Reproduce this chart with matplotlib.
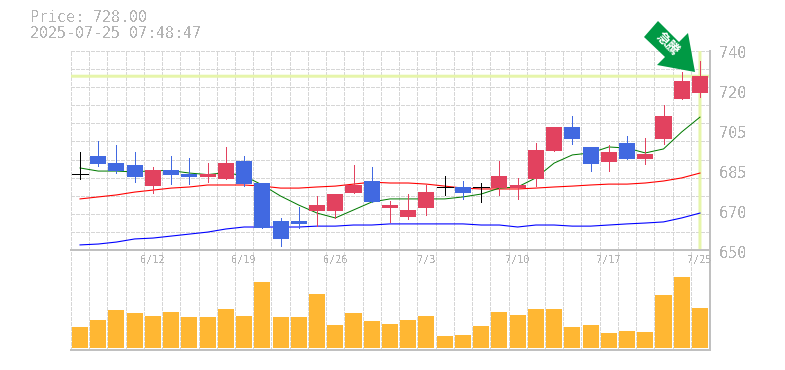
#!/usr/bin/env python3
import matplotlib
matplotlib.use("Agg")
import matplotlib.pyplot as plt
from matplotlib.patches import Polygon
from matplotlib.transforms import Affine2D

plt.rcParams['font.family'] = ['DejaVu Sans Mono', 'Noto Sans CJK JP']
plt.rcParams['text.antialiased'] = False
plt.rcParams['lines.antialiased'] = False
plt.rcParams['patch.antialiased'] = False

W, H = 785, 370

open_ = [684.2, 692.5, 689.3, 688.4, 679.1, 686.2, 684.4, 683.1, 682.2, 690.2,
         680.3, 663.1, 663.1, 667.6, 667.6, 675.8, 681.2, 669.0, 664.9, 669.0,
         678.5, 678.5, 678.3, 678.0, 678.0, 682.1, 694.8, 705.6, 696.6, 689.8,
         698.4, 691.2, 700.2, 718.3, 721.0]
close = [684.2, 689.0, 685.9, 683.1, 686.2, 684.1, 683.1, 684.4, 689.3, 680.0,
         660.1, 655.0, 661.8, 670.3, 675.3, 679.4, 671.7, 670.3, 668.1, 676.2,
         678.5, 675.8, 678.3, 683.5, 679.4, 695.2, 705.6, 700.2, 688.9, 694.3,
         691.2, 693.4, 710.6, 726.4, 728.6]
high = [694.3, 699.3, 697.5, 694.3, 687.5, 692.5, 691.6, 689.3, 696.6, 692.5,
        680.3, 664.5, 669.4, 674.4, 675.3, 688.4, 687.5, 672.2, 675.3, 679.4,
        683.5, 681.2, 680.3, 690.2, 682.6, 698.4, 705.6, 710.6, 696.6, 697.5,
        701.6, 700.6, 715.6, 730.5, 735.5]
low = [682.1, 688.1, 685.0, 680.9, 675.9, 680.0, 680.0, 680.9, 682.2, 679.1,
       660.1, 651.8, 660.1, 660.8, 664.5, 675.8, 671.7, 662.7, 664.0, 665.8,
       674.9, 673.1, 671.7, 674.9, 673.1, 678.9, 694.8, 697.9, 685.7, 685.7,
       691.2, 688.9, 697.9, 718.3, 719.2]

ma_short = [687.1, 685.7, 685.7, 685.3, 685.9, 685.9, 684.8, 684.1, 685.0, 683.5,
            679.4, 674.4, 670.3, 666.7, 664.5, 668.1, 671.7, 673.1, 673.1, 673.1,
            673.1, 674.0, 675.3, 678.0, 678.5, 682.6, 689.3, 693.0, 693.9, 696.6,
            696.1, 693.9, 695.7, 703.4, 710.1]
ma_mid = [673.1, 674.0, 674.9, 676.2, 677.1, 678.0, 678.5, 679.4, 679.4, 679.4,
          678.9, 678.0, 678.0, 678.5, 678.9, 679.8, 680.7, 680.3, 680.3, 679.8,
          678.9, 678.0, 677.6, 677.6, 677.6, 678.0, 678.5, 678.9, 679.4, 679.8,
          679.8, 680.3, 681.2, 682.6, 684.8]
ma_long = [652.3, 652.7, 653.6, 655.0, 655.4, 656.3, 657.2, 658.1, 659.5, 660.4,
           660.4, 660.4, 660.4, 660.8, 660.8, 661.3, 661.3, 661.8, 661.8, 661.8,
           661.8, 661.8, 661.3, 661.3, 660.4, 661.3, 661.3, 660.8, 660.8, 661.3,
           661.8, 662.2, 662.7, 664.5, 666.7]
volume = [21.3, 28.3, 38.3, 35.3, 32.3, 36.3, 31.3, 31.3, 39.3, 32.3,
          66.3, 31.3, 31.3, 54.3, 23.3, 35.3, 27.3, 24.3, 28.3, 32.3,
          12.3, 13.3, 22.3, 36.3, 33.3, 39.3, 39.3, 21.3, 23.3, 15.3,
          17.3, 16.3, 53.3, 71.3, 40.3]

date_pos = [4, 9, 14, 19, 24, 29, 34]
date_labels = ['6/12', '6/19', '6/26', '7/3', '7/10', '7/17', '7/25']
price_ticks = [740, 720, 705, 685, 670, 650]
last_price = 728.6

days = list(range(len(close)))
px = 1 / 100 * 72  # one pixel in points

GRID = '#d6d6d6'
FRAME = '#c0c0c0'
TEXT = '#b4b4b4'
UP = '#e2425f'
DOWN = '#4169e1'
HILITE = '#e6f5aa'


def place(left, top, right, bottom):
    return fig.add_axes([left / W, 1 - bottom / H, (right - left) / W, (bottom - top) / H])


fig = plt.figure(figsize=(W / 100, H / 100), dpi=100)
ax = place(71, 51, 710, 250)
ax2 = place(71, 250, 710, 350)

xlim = (-0.494, 34.55)
grid_x = [d + 0.5 for d in range(-1, 35)]

for a in (ax, ax2):
    a.set_xlim(xlim)
    a.set_xticks([])
    a.set_yticks([])
    a.patch.set_alpha(0)
    for s in ('left', 'top'):
        a.spines[s].set_visible(False)
    for s in ('right', 'bottom'):
        a.spines[s].set_color(FRAME)
        a.spines[s].set_linewidth(2 * px)
    a.vlines(grid_x, 0, 1, transform=a.get_xaxis_transform(), colors=GRID,
             linewidth=px, linestyles=(0, (3, 2)), zorder=1, clip_on=False)

ax.set_ylim(650, 740)
grid_y = [650 + 90 * k / 11 for k in range(12)]
ax.hlines(grid_y, xlim[0], xlim[1], colors=GRID, linewidth=px,
          linestyles=(0, (3, 2)), zorder=1)

ax.axhline(last_price, color=HILITE, linewidth=3 * px, zorder=2, antialiased=True, snap=False)
ax.axvline(days[-1], color=HILITE, linewidth=3 * px, zorder=2, antialiased=True, snap=False)

ax.plot(days, ma_long, color='#0000ff', linewidth=1.1 * px, zorder=3, antialiased=True)
ax.plot(days, ma_mid, color='#ff0000', linewidth=1.1 * px, zorder=3, antialiased=True)
ax.plot(days, ma_short, color='#007a00', linewidth=1.0 * px, zorder=3, antialiased=True)

for d in days:
    o, c = open_[d], close[d]
    if o == c:
        ax.vlines(d, low[d], high[d], color='black', linewidth=0.9 * px, zorder=4)
        ax.hlines(o, d - 0.44, d + 0.44, color='black', linewidth=0.9 * px, zorder=4)
        continue
    col = UP if c > o else DOWN
    ax.vlines(d, low[d], high[d], color=col, linewidth=0.9 * px, zorder=4)
    ax.bar(d, abs(c - o), bottom=min(o, c), width=0.88, color=col, linewidth=0, zorder=5)

ax2.set_ylim(-1.7, 98.3)
ax2.bar(days, volume, width=0.88, color='#ffb733', linewidth=0, zorder=3)

for p, lab in zip(date_pos, date_labels):
    ax2.text(p, 87.9, lab, color=TEXT, fontsize=7.4, ha='center', va='center', zorder=6)

for v, k in zip(price_ticks, range(len(price_ticks))):
    fig.text(733 / W, 1 - (53 + 40 * k) / H, str(v), color=TEXT, fontsize=11,
             ha='center', va='center')

fig.text(30 / W, 1 - 18 / H, 'Price: 728.00', color=TEXT, fontsize=10.8, ha='left', va='center')
fig.text(30 / W, 1 - 33 / H, '2025-07-25 07:48:47', color=TEXT, fontsize=10.8, ha='left', va='center')

# arrow badge, in figure pixels from the top left corner
to_fig = Affine2D().scale(1 / W, -1 / H).translate(0, 1) + fig.transFigure
fig.add_artist(Polygon([(658, 21), (644, 37), (665, 57), (657, 65), (695, 72),
                        (688, 33), (679, 42)], closed=True, facecolor='#009944',
                       edgecolor='none', antialiased=True, transform=to_fig, zorder=8))
fig.text(667 / W, 1 - 44 / H, '急騰', color='white', fontsize=9.5, rotation=-45,
         rotation_mode='anchor', ha='center', va='center', zorder=9,
         family=['Noto Sans CJK JP', 'DejaVu Sans'], fontweight='bold', antialiased=True)

fig.savefig('out.png', dpi=100)
